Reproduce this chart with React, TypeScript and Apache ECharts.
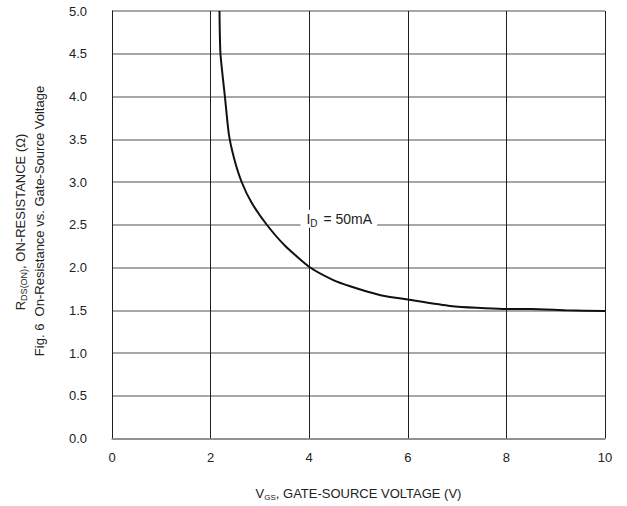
import React, { useEffect, useRef } from "react";
import * as echarts from "echarts";

const vgs = [2.18, 2.2, 2.29, 2.37, 2.48, 2.63, 2.83, 3.14, 3.51, 4.02, 4.5, 4.83, 5.17, 5.5, 6.0, 6.86, 7.93, 8.5, 9.2, 10.0];
const rdson = [5.0, 4.5, 4.0, 3.56, 3.27, 3.0, 2.76, 2.5, 2.255, 2.0, 1.85, 1.78, 1.72, 1.67, 1.625, 1.55, 1.515, 1.515, 1.5, 1.49];
const xTicks = { min: 0, max: 10, interval: 2 };
const yTicks = { min: 0, max: 5, interval: 0.5 };
const labelPos = [4.6, 2.57];

const FONT = "Liberation Sans, Arial, sans-serif";

export default function App() {
  const ref = useRef<HTMLDivElement>(null);
  useEffect(() => {
    if (!ref.current) return;
    const chart = echarts.init(ref.current, null, { renderer: "svg" });
    const data = vgs.map((v, i) => [v, rdson[i]]);
    chart.setOption({
      animation: false,
      backgroundColor: "#fff",
      textStyle: { fontFamily: FONT },
      grid: { left: 112, right: 22, top: 11, bottom: 66.5 },
      xAxis: {
        type: "value",
        min: xTicks.min,
        max: xTicks.max,
        interval: xTicks.interval,
        axisLine: { show: true, lineStyle: { color: "#8a8a8a", width: 1.5 } },
        axisTick: { show: false },
        axisLabel: { color: "#222", fontSize: 13, margin: 12, fontFamily: FONT },
        splitLine: { show: true, lineStyle: { color: "#1e1e1e", width: 1 } },
        name: "{a|V}{s|GS}{a|, GATE-SOURCE VOLTAGE (V)}",
        nameLocation: "middle",
        nameGap: 47,
        nameTextStyle: {
          rich: {
            a: { fontSize: 13, color: "#222", fontFamily: FONT, lineHeight: 16 },
            s: { fontSize: 8, color: "#222", fontFamily: FONT, lineHeight: 16, padding: [7, 0, 0, 0] },
          },
        },
      },
      yAxis: {
        type: "value",
        min: yTicks.min,
        max: yTicks.max,
        interval: yTicks.interval,
        axisLine: { show: true, lineStyle: { color: "#1e1e1e", width: 1 } },
        axisTick: { show: false },
        axisLabel: {
          color: "#222",
          fontSize: 13,
          margin: 25,
          fontFamily: FONT,
          formatter: (v: number) => v.toFixed(1),
        },
        splitLine: { show: true, lineStyle: { color: "#8a8a8a", width: 1.5 } },
      },
      graphic: [
        {
          type: "text",
          x: 20,
          y: 222,
          rotation: Math.PI / 2,
          style: {
            text: "{a|R}{s|DS(ON)}{a|, ON-RESISTANCE (Ω)}",
            align: "center",
            verticalAlign: "middle",
            rich: {
              a: { fontSize: 13, fill: "#222", fontFamily: FONT, lineHeight: 16 },
              s: { fontSize: 9, fill: "#222", fontFamily: FONT, lineHeight: 16, padding: [7, 0, 0, 0] },
            },
          },
        },
        {
          type: "text",
          x: 39,
          y: 221,
          rotation: Math.PI / 2,
          style: {
            text: "Fig. 6  On-Resistance vs. Gate-Source Voltage",
            align: "center",
            verticalAlign: "middle",
            fontSize: 13,
            fill: "#222",
            fontFamily: FONT,
          },
        },
      ],
      series: [
        {
          type: "line",
          data,
          smooth: 0.2,
          showSymbol: false,
          symbol: "none",
          lineStyle: { color: "#111", width: 2 },
          z: 5,
          markPoint: {
            symbol: "rect",
            symbolSize: 0,
            silent: true,
            data: [
              {
                coord: labelPos,
                label: {
                  show: true,
                  position: "inside",
                  formatter: "{a|I}{s|D}{a| = 50mA}",
                  backgroundColor: "#fff",
                  padding: [0, 5, 0, 6],
                  rich: {
                    a: { fontSize: 14, color: "#222", fontFamily: FONT, lineHeight: 18 },
                    s: { fontSize: 10, color: "#222", fontFamily: FONT, lineHeight: 18, padding: [9, 2, 0, 0] },
                  },
                },
              },
            ],
          },
        },
      ],
    });
    return () => chart.dispose();
  }, []);
  return (
    <div
      ref={ref}
      style={{ position: "absolute", left: 0, top: 0, width: 627, height: 506, background: "#fff" }}
    />
  );
}
